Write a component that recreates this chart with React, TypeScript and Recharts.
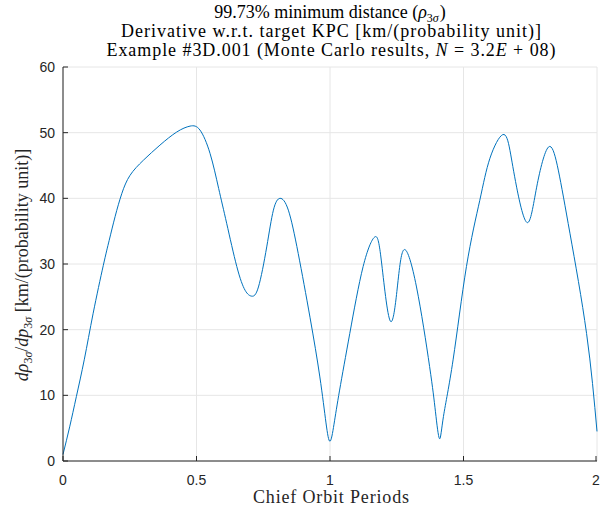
import { CartesianGrid, Line, LineChart, XAxis, YAxis } from 'recharts'

const periods = [
  0, 0.025, 0.05, 0.08, 0.113, 0.151, 0.173, 0.195, 0.22, 0.251, 0.301, 0.363, 0.426, 0.476,
  0.513, 0.551, 0.583, 0.613, 0.651, 0.682, 0.707, 0.732, 0.763, 0.788, 0.813, 0.844, 0.881,
  0.925, 0.962, 0.985, 1.0, 1.015, 1.036, 1.074, 1.124, 1.167, 1.192, 1.226, 1.255, 1.28, 1.324,
  1.373, 1.395, 1.41, 1.425, 1.461, 1.511, 1.561, 1.599, 1.647, 1.674, 1.699, 1.739, 1.774,
  1.818, 1.855, 1.899, 1.961, 2.0,
]
const derivative = [
  1.0, 5.2, 9.8, 15.5, 22.5, 29.8, 33.6, 37.2, 40.7, 43.5, 45.8, 48.1, 50.1, 51.0,
  50.4, 46.8, 41.5, 36.2, 29.6, 26.0, 25.1, 26.5, 32.6, 38.2, 40.0, 38.2, 31.6,
  21.9, 12.8, 5.8, 3.0, 5.6, 10.8, 19.4, 29.6, 34.1, 30.6, 21.3, 27.5, 32.2, 26.5,
  14.4, 7.5, 3.4, 6.8, 15.4, 29.6, 39.7, 46.1, 49.7, 47.3, 41.7, 36.3, 41.7,
  47.8, 44.3, 34.6, 19.4, 4.5,
]
const xTicks = [0, 0.5, 1, 1.5, 2]
const yTicks = [0, 10, 20, 30, 40, 50, 60]

const data = periods.map((p, i) => ({ p, d: derivative[i] }))

const axisColor = '#262626'
const tickFont = 'Liberation Sans, Arial, sans-serif'
const serif = 'Liberation Serif, Times New Roman, serif'

function BottomTick({ x, y, payload }: any) {
  return (
    <g>
      <line x1={x} x2={x} y1={y} y2={y - 5} stroke={axisColor} />
      <text x={x} y={y + 24} textAnchor="middle" fontSize={14} fill={axisColor} fontFamily={tickFont}>
        {payload.value}
      </text>
    </g>
  )
}

function TopTick({ x, y }: any) {
  return <line x1={x} x2={x} y1={y} y2={y + 5} stroke={axisColor} />
}

function LeftTick({ x, y, payload }: any) {
  return (
    <g>
      <line x1={x} x2={x + 5} y1={y} y2={y} stroke={axisColor} />
      <text x={x - 8} y={y + 5} textAnchor="end" fontSize={14} fill={axisColor} fontFamily={tickFont}>
        {payload.value}
      </text>
    </g>
  )
}

function RightTick({ x, y }: any) {
  return <line x1={x} x2={x - 5} y1={y} y2={y} stroke={axisColor} />
}

export default function App() {
  return (
    <div style={{ position: 'absolute', left: 0, top: 0, width: 600, height: 514, background: '#fff' }}>
      <LineChart width={600} height={514} data={data} margin={{ top: 67, right: 3, bottom: 0, left: 0 }}>
        <CartesianGrid xAxisId="b" yAxisId="l" stroke="#e6e6e6" />
        <XAxis
          xAxisId="b"
          dataKey="p"
          type="number"
          domain={[0, 2]}
          ticks={xTicks}
          height={53}
          tickSize={0}
          tickMargin={0}
          tickLine={false}
          tick={<BottomTick />}
          axisLine={{ stroke: axisColor }}
        />
        <XAxis
          xAxisId="t"
          orientation="top"
          dataKey="p"
          type="number"
          domain={[0, 2]}
          ticks={xTicks}
          height={0}
          tickSize={0}
          tickMargin={0}
          tickLine={false}
          tick={<TopTick />}
          axisLine={{ stroke: axisColor }}
        />
        <YAxis
          yAxisId="l"
          type="number"
          domain={[0, 60]}
          ticks={yTicks}
          width={63}
          tickSize={0}
          tickMargin={0}
          tickLine={false}
          tick={<LeftTick />}
          axisLine={{ stroke: axisColor }}
        />
        <YAxis
          yAxisId="r"
          orientation="right"
          type="number"
          domain={[0, 60]}
          ticks={yTicks}
          width={0}
          tickSize={0}
          tickMargin={0}
          tickLine={false}
          tick={<RightTick />}
          axisLine={{ stroke: axisColor }}
        />
        <Line
          xAxisId="b"
          yAxisId="l"
          dataKey="d"
          type="natural"
          stroke="#0072BD"
          strokeWidth={1}
          dot={false}
          isAnimationActive={false}
        />
      </LineChart>
      <svg
        width={600}
        height={514}
        style={{ position: 'absolute', left: 0, top: 0, pointerEvents: 'none' }}
        fontFamily={serif}
        fill="#000"
      >
        <text x={330} y={18} textAnchor="middle" fontSize={18}>
          99.73% minimum distance (<tspan fontStyle="italic">ρ</tspan>
          <tspan fontSize={12} dy={4} fontStyle="italic">
            <tspan fontStyle="normal">3</tspan>σ
          </tspan>
          <tspan dy={-4} dx={1}>)</tspan>
        </text>
        <text x={331} y={37} textAnchor="middle" fontSize={18} textLength={420} lengthAdjust="spacing">
          Derivative w.r.t. target KPC [km/(probability unit)]
        </text>
        <text x={331} y={56} textAnchor="middle" fontSize={18} textLength={449} lengthAdjust="spacing">
          Example #3D.001 (Monte Carlo results, <tspan fontStyle="italic">N</tspan> = 3.2
          <tspan fontStyle="italic">E</tspan> + 08)
        </text>
        <text x={331} y={503} textAnchor="middle" fontSize={18} textLength={156} lengthAdjust="spacing" fill="#262626">
          Chief Orbit Periods
        </text>
        <text
          transform="translate(28 265) rotate(-90)"
          textAnchor="middle"
          fontSize={18}
          fill="#262626"
        >
          <tspan fontStyle="italic">dρ</tspan>
          <tspan fontSize={12} dy={4}>3</tspan>
          <tspan fontSize={12} fontStyle="italic">σ</tspan>
          <tspan dy={-4}>/</tspan>
          <tspan fontStyle="italic">dp</tspan>
          <tspan fontSize={12} dy={4}>3</tspan>
          <tspan fontSize={12} fontStyle="italic">σ</tspan>
          <tspan dy={-4}> [km/(probability unit)]</tspan>
        </text>
      </svg>
    </div>
  )
}
